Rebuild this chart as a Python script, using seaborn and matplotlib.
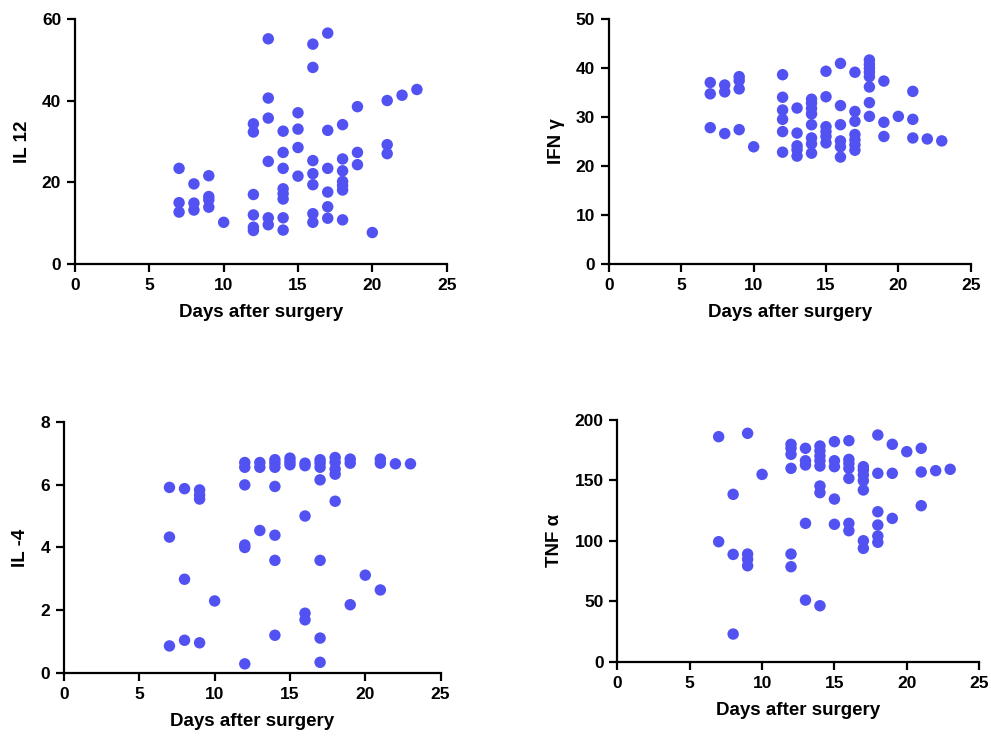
import numpy as np
import pandas as pd
import matplotlib
matplotlib.use("Agg")
import matplotlib.pyplot as plt
import seaborn as sns

# Days and values, one list per panel
il12_days = [7, 7, 7, 8, 8, 8, 9, 9, 9, 9, 10,
             12, 12, 12, 12, 12, 12,
             13, 13, 13, 13, 13, 13,
             14, 14, 14, 14, 14, 14, 14, 14,
             15, 15, 15, 15,
             16, 16, 16, 16, 16, 16, 16,
             17, 17, 17, 17, 17, 17,
             18, 18, 18, 18, 18, 18, 18,
             19, 19, 19, 20, 21, 21, 21, 22, 23]
il12_vals = [23.4, 15.0, 12.7, 19.6, 14.9, 13.2, 21.6, 16.5, 15.7, 13.9, 10.2,
             34.3, 32.3, 17.0, 12.0, 9.0, 8.2,
             55.1, 40.6, 35.7, 25.1, 11.3, 9.6,
             32.5, 27.3, 23.4, 18.4, 17.2, 15.9, 11.3, 8.3,
             37.0, 33.0, 28.5, 21.5,
             53.8, 48.1, 25.3, 22.1, 19.4, 12.3, 10.2,
             56.5, 32.7, 23.4, 17.6, 14.0, 11.2,
             34.1, 25.7, 22.8, 20.2, 19.2, 18.1, 10.8,
             38.5, 27.3, 24.3, 7.7, 40.0, 29.2, 27.0, 41.3, 42.7]

ifn_days = [7, 7, 7, 8, 8, 8, 9, 9, 9, 9, 10,
            12, 12, 12, 12, 12, 12,
            13, 13, 13, 13, 13,
            14, 14, 14, 14, 14, 14, 14, 14,
            15, 15, 15, 15, 15, 15,
            16, 16, 16, 16, 16, 16,
            17, 17, 17, 17, 17, 17, 17,
            18, 18, 18, 18, 18, 18, 18, 18,
            19, 19, 19, 20, 21, 21, 21, 22, 23]
ifn_vals = [37.0, 34.7, 27.8, 36.5, 35.1, 26.6, 38.2, 37.4, 35.7, 27.4, 23.9,
            38.6, 34.0, 31.4, 29.5, 27.0, 22.8,
            31.8, 26.7, 24.1, 23.3, 22.0,
            33.6, 32.8, 31.7, 30.6, 28.4, 25.7, 24.5, 22.6,
            39.3, 34.1, 28.0, 27.0, 26.0, 24.7,
            40.9, 32.3, 28.4, 25.1, 23.9, 21.8,
            39.1, 31.1, 29.1, 26.4, 25.3, 24.3, 23.2,
            41.6, 40.7, 39.9, 39.1, 38.2, 36.1, 32.9, 30.1,
            37.3, 28.9, 26.0, 30.1, 35.2, 29.5, 25.7, 25.5, 25.1]

il4_days = [7, 7, 7, 8, 8, 8, 9, 9, 9, 9, 10,
            12, 12, 12, 12, 12, 12,
            13, 13, 13,
            14, 14, 14, 14, 14, 14, 14,
            15, 15, 15,
            16, 16, 16, 16, 16,
            17, 17, 17, 17, 17, 17, 17,
            18, 18, 18, 18, 18,
            19, 19, 19, 20, 21, 21, 21, 22, 23]
il4_vals = [5.91, 4.33, 0.87, 5.87, 2.99, 1.05, 5.83, 5.67, 5.54, 0.97, 2.30,
            6.70, 6.55, 5.99, 4.08, 4.00, 0.30,
            6.70, 6.55, 4.54,
            6.79, 6.68, 6.55, 5.94, 4.39, 3.59, 1.21,
            6.84, 6.73, 6.63,
            6.68, 6.60, 5.00, 1.91, 1.70,
            6.79, 6.68, 6.55, 6.15, 3.59, 1.12, 0.35,
            6.86, 6.71, 6.49, 6.33, 5.47,
            6.81, 6.68, 2.18, 3.12, 6.81, 6.68, 2.65, 6.66, 6.66]

tnf_days = [7, 7, 8, 8, 8, 9, 9, 9, 9, 10,
            12, 12, 12, 12, 12, 12,
            13, 13, 13, 13, 13,
            14, 14, 14, 14, 14, 14, 14, 14,
            15, 15, 15, 15, 15,
            16, 16, 16, 16, 16, 16, 16,
            17, 17, 17, 17, 17, 17, 17,
            18, 18, 18, 18, 18, 18,
            19, 19, 19, 20, 21, 21, 21, 22, 23]
tnf_vals = [186.2, 99.3, 138.5, 88.8, 22.9, 189.0, 89.1, 84.7, 79.4, 155.0,
            179.9, 176.6, 171.6, 160.0, 89.1, 78.6,
            176.6, 166.3, 162.8, 114.5, 51.0,
            178.5, 174.6, 170.2, 166.3, 161.9, 145.4, 139.9, 46.3,
            182.1, 166.3, 161.4, 134.6, 113.7,
            182.9, 167.4, 164.1, 160.0, 151.7, 114.5, 108.4,
            161.4, 158.6, 154.5, 149.8, 142.1, 100.1, 93.8,
            187.6, 155.9, 124.1, 113.1, 104.0, 98.8,
            179.9, 155.9, 118.6, 173.8, 176.6, 157.0, 129.1, 158.1, 159.2]

panel_labels = ["IL 12", "IFN \u03b3", "IL -4", "TNF \u03b1"]
panel_days = [il12_days, ifn_days, il4_days, tnf_days]
panel_vals = [il12_vals, ifn_vals, il4_vals, tnf_vals]
panel_ymax = [60, 50, 8, 200]
panel_ystep = [20, 10, 2, 50]

# axes boxes in figure fractions [left, bottom, width, height]
boxes = [[0.0757, 0.6447, 0.375, 0.330],
         [0.6145, 0.6447, 0.365, 0.330],
         [0.0646, 0.0938, 0.380, 0.3387],
         [0.6230, 0.1094, 0.365, 0.3253]]

sns.set_theme(style="ticks")
plt.rcParams["font.family"] = ["Liberation Sans", "DejaVu Sans"]
plt.rcParams["font.weight"] = "bold"
plt.rcParams["text.color"] = "black"
plt.rcParams["axes.labelcolor"] = "black"

fig = plt.figure(figsize=(9.91, 7.43), dpi=100)
dot_color = "#5252F2"

for i in range(4):
    ax = fig.add_axes(boxes[i])
    df = pd.DataFrame({"day": panel_days[i], "value": panel_vals[i]})
    sns.scatterplot(data=df, x="day", y="value", ax=ax, color=dot_color,
                    s=68, edgecolor="none", clip_on=False)
    ax.set_xlim(0, 25)
    ax.set_ylim(0, panel_ymax[i])
    ax.set_xticks(np.arange(0, 26, 5))
    ax.set_yticks(np.arange(0, panel_ymax[i] + 1, panel_ystep[i]))
    sns.despine(ax=ax)
    for side in ["left", "bottom"]:
        ax.spines[side].set_linewidth(1.6)
        ax.spines[side].set_color("black")
    ax.tick_params(axis="both", length=6, width=1.6, labelsize=12.5,
                   colors="black", labelcolor="black", pad=4)
    for lbl in ax.get_xticklabels() + ax.get_yticklabels():
        lbl.set_fontweight("bold")
    ax.set_xlabel("Days after surgery", fontsize=13.5, fontweight="bold",
                  labelpad=8, color="black")
    ax.set_ylabel(panel_labels[i], fontsize=13.5, fontweight="bold",
                  labelpad=8, color="black")

fig.savefig("out.png", dpi=100, facecolor="white")
